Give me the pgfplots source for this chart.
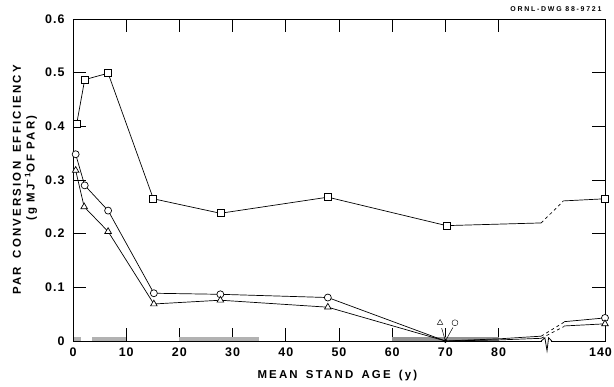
\documentclass[border=0pt]{standalone}
\usepackage{fontspec}
\setmainfont{Liberation Sans}
\usepackage{pgfplots}
\pgfplotsset{compat=1.18}
\newfontfamily\tickfont[LetterSpace=8]{Liberation Sans}
\newfontfamily\lblfont[LetterSpace=19]{Liberation Sans}
\newfontfamily\dwgfont[LetterSpace=25]{Liberation Sans}
\begin{document}
\begin{tikzpicture}
\useasboundingbox (-73bp,-46bp) rectangle (541bp,341bp);
\begin{axis}[
  at={(0,0)}, anchor=south west,
  scale only axis, width=532bp, height=322bp,
  xmin=0, xmax=100, ymin=0, ymax=0.6,
  xtick={0,10,20,30,40,50,60,70,80,100},
  xticklabels={0,10,20,30,40,50,60,70,80,140\kern9bp},
  ytick={0,0.1,0.2,0.3,0.4,0.5,0.6},
  yticklabels={0,0.1,0.2,0.3,0.4,0.5,0.6},
  tick align=inside, major tick length=13bp,
  tick style={black, line width=0.9pt},
  ticklabel style={font=\tickfont\bfseries\fontsize{12.5}{14}\selectfont},
  yticklabel style={xshift=-5bp},
  xticklabel style={yshift=-3bp},
  /pgf/number format/assume math mode=true,
  axis line style={line width=1pt},
  clip=false,
]
% shaded strips along the axis
\addplot[fill=gray!60, draw=none] coordinates {(0.2,0.007)(1.5,0.007)} \closedcycle;
\addplot[fill=gray!60, draw=none] coordinates {(3.5,0.007)(10,0.007)} \closedcycle;
\addplot[fill=gray!60, draw=none] coordinates {(20,0.007)(35,0.007)} \closedcycle;
\addplot[fill=gray!85, draw=none] coordinates {(60,0.007)(80,0.007)} \closedcycle;

% squares
\addplot[black, line width=0.7pt, mark=square*, mark size=3.5bp, mark options={fill=white, solid}, mark indices={1,2,3,4,5,6,7}]
 coordinates {(0.7,0.405)(2.2,0.487)(6.6,0.499)(15.1,0.265)(27.7,0.238)(47.9,0.268)(70.2,0.215)(88,0.22)};
\addplot[black, line width=0.7pt, dashed] coordinates {(88,0.22)(92.1,0.26)};
\addplot[black, line width=0.7pt, mark=square*, mark size=3.5bp, mark options={fill=white, solid}, mark indices={2}]
 coordinates {(92.1,0.261)(100,0.265)};

% circles
\addplot[black, line width=0.7pt, mark=*, mark size=3.5bp, mark options={fill=white, solid}, mark indices={1,2,3,4,5,6}]
 coordinates {(0.5,0.348)(2.2,0.29)(6.6,0.243)(15.2,0.089)(27.7,0.087)(47.9,0.081)(70,0)};
\addplot[black, line width=0.7pt] coordinates {(70,0)(80,0.004)(88,0.009)};
\addplot[black, line width=0.7pt, dashed] coordinates {(88,0.009)(92.3,0.035)};
\addplot[black, line width=0.7pt, mark=*, mark size=3.5bp, mark options={fill=white, solid}, mark indices={2}]
 coordinates {(92.3,0.036)(100,0.043)};

% triangles
\addplot[black, line width=0.7pt, mark=triangle*, mark size=3.8bp, mark options={fill=white, solid}, mark indices={1,2,3,4,5,6}]
 coordinates {(0.5,0.318)(2.1,0.25)(6.6,0.204)(15.2,0.069)(27.7,0.076)(47.9,0.063)(70,0)};
\addplot[black, line width=0.7pt] coordinates {(70,0)(80,0.002)(88,0.005)};
\addplot[black, line width=0.7pt, dashed] coordinates {(88,0.005)(92.3,0.027)};
\addplot[black, line width=0.7pt, mark=triangle*, mark size=3.8bp, mark options={fill=white, solid}, mark indices={2}]
 coordinates {(92.3,0.028)(100,0.032)};

% annotation at 70
\addplot[black, only marks, mark=triangle, mark size=3.2bp] coordinates {(69,0.034)};
\addplot[black, only marks, mark=o, mark size=3bp] coordinates {(71.8,0.034)};
\addplot[black, line width=0.5pt] coordinates {(69.3,0.024)(70,0)};
\addplot[black, line width=0.5pt] coordinates {(71.4,0.025)(70,0)};
\addplot[black, only marks, mark=*, mark size=1.8bp] coordinates {(70,0)};

% axis break
\draw[white, line width=2pt] (axis cs:88.2,0) -- (axis cs:89.8,0);
\draw[line width=0.8pt] (axis cs:88,0) -- (axis cs:88.7,0.006) -- (axis cs:89.1,-0.018) -- (axis cs:89.4,0.006) -- (axis cs:90,0);

% labels
\node[anchor=base, font=\lblfont\bfseries\fontsize{11.5}{12}\selectfont] at ([yshift=-37bp]rel axis cs:0.497,0) {MEAN\hspace{0.25em} STAND\hspace{0.25em} AGE\hspace{0.25em} (y)};
\node[rotate=90, anchor=center, font=\lblfont\bfseries\fontsize{11.5}{12}\selectfont] at ([xshift=-56bp]rel axis cs:0,0.5) {PAR\hspace{0.3em} CONVERSION\hspace{0.3em} EFFICIENCY};
\node[rotate=90, anchor=center, font=\lblfont\bfseries\fontsize{11.5}{12}\selectfont] at ([xshift=-42bp]rel axis cs:0,0.537) {(g MJ\textsuperscript{−1}OF PAR)};
\node[anchor=base east, font=\dwgfont\bfseries\fontsize{7}{8}\selectfont] at ([yshift=8bp]rel axis cs:1,1) {ORNL-DWG 88-9721};
\end{axis}
\end{tikzpicture}
\end{document}
